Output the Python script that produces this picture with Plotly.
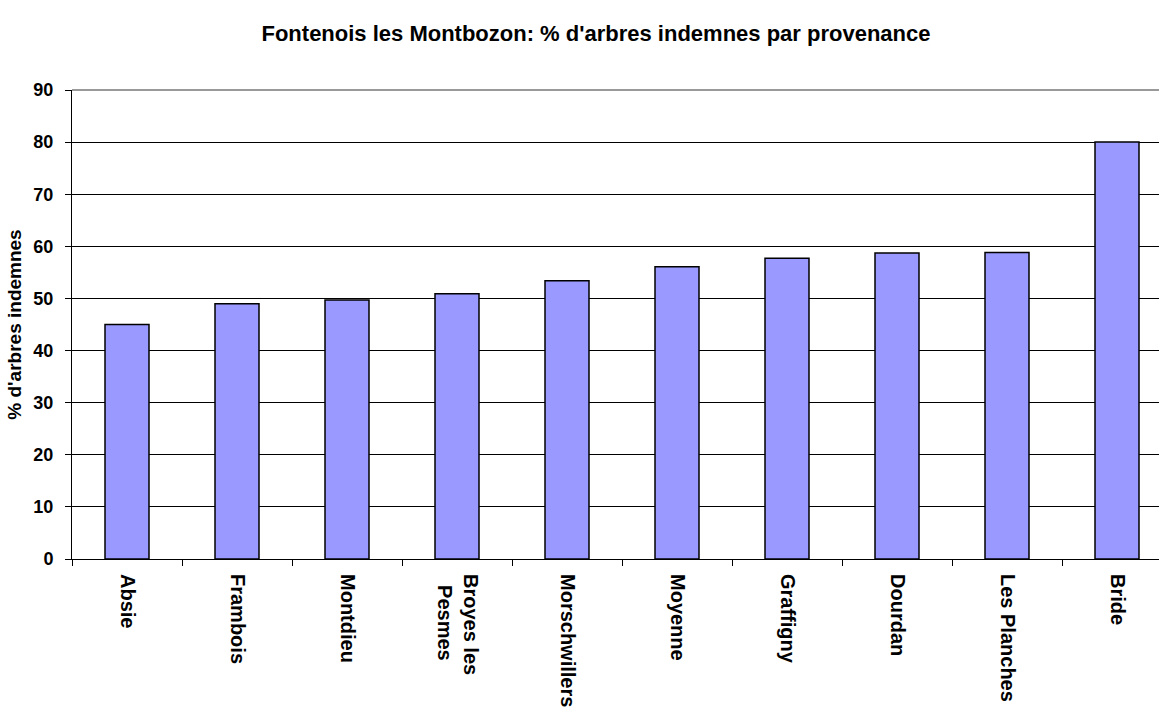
import plotly.graph_objects as go

# Provenances and share of undamaged trees (%)
provenances = ["Absie", "Frambois", "Montdieu", "Broyes les Pesmes", "Morschwillers",
               "Moyenne", "Graffigny", "Dourdan", "Les Planches", "Bride"]
pct_indemnes = [45.0, 49.0, 49.7, 50.9, 53.4, 56.1, 57.7, 58.7, 58.8, 80.0]
y_ticks = [0, 10, 20, 30, 40, 50, 60, 70, 80, 90]

# axis labels: the long name wraps on two centred lines
NB = "\u00a0"
x_labels = ["Absie", "Frambois", "Montdieu", "Broyes les<br>" + NB * 2 + "Pesmes", "Morschwillers",
            "Moyenne", "Graffigny", "Dourdan", "Les Planches", "Bride"]

FONT = "Liberation Sans, Arial, Helvetica, sans-serif"
W, H = 1159, 707
L, T, B = 72, 90, 148
CAT_PX = 110  # width of one category slot in pixels

# visible span of the category axis (the last slot runs past the right edge)
x_hi = -0.5 + (W - L) / CAT_PX

fig = go.Figure(
    go.Bar(
        x=provenances,
        y=pct_indemnes,
        marker=dict(color="#9999FF", line=dict(color="#000000", width=1.5)),
        width=0.4,
    )
)

fig.update_layout(
    width=W,
    height=H,
    margin=dict(l=L, r=0, t=T, b=B, pad=0),
    paper_bgcolor="white",
    plot_bgcolor="white",
    showlegend=False,
    title=dict(
        text="Fontenois les Montbozon: % d'arbres indemnes par provenance",
        x=596 / W,
        xanchor="center",
        y=1 - 33 / H,
        yanchor="middle",
        font=dict(family=FONT, size=22, color="black", weight="bold"),
    ),
)

fig.update_xaxes(
    type="category",
    range=[-0.5, x_hi],
    tickmode="array",
    tickvals=provenances,
    ticktext=x_labels,
    showgrid=False,
    showline=True,
    linecolor="black",
    linewidth=1,
    ticks="outside",
    tickson="boundaries",
    ticklen=6,
    tickcolor="black",
    tickangle=90,
    ticklabelstandoff=10,
    tickfont=dict(family=FONT, size=20, color="black", weight="bold"),
)

fig.update_yaxes(
    range=[0, 90],
    tickvals=y_ticks,
    showgrid=True,
    gridcolor="black",
    gridwidth=1,
    zeroline=False,
    showline=True,
    linecolor="black",
    linewidth=1,
    ticks="outside",
    ticklen=6,
    tickcolor="black",
    ticklabelstandoff=8,
    tickfont=dict(family=FONT, size=18, color="black", weight="bold"),
    title=dict(
        text="% d'arbres indemnes",
        standoff=6,
        font=dict(family=FONT, size=19, color="black", weight="bold"),
    ),
)

# grey top edge of the plot frame
fig.add_shape(
    type="line", xref="paper", yref="paper",
    x0=0, x1=1, y0=1, y1=1,
    line=dict(color="#999999", width=2),
)

fig.write_html("out.html")
